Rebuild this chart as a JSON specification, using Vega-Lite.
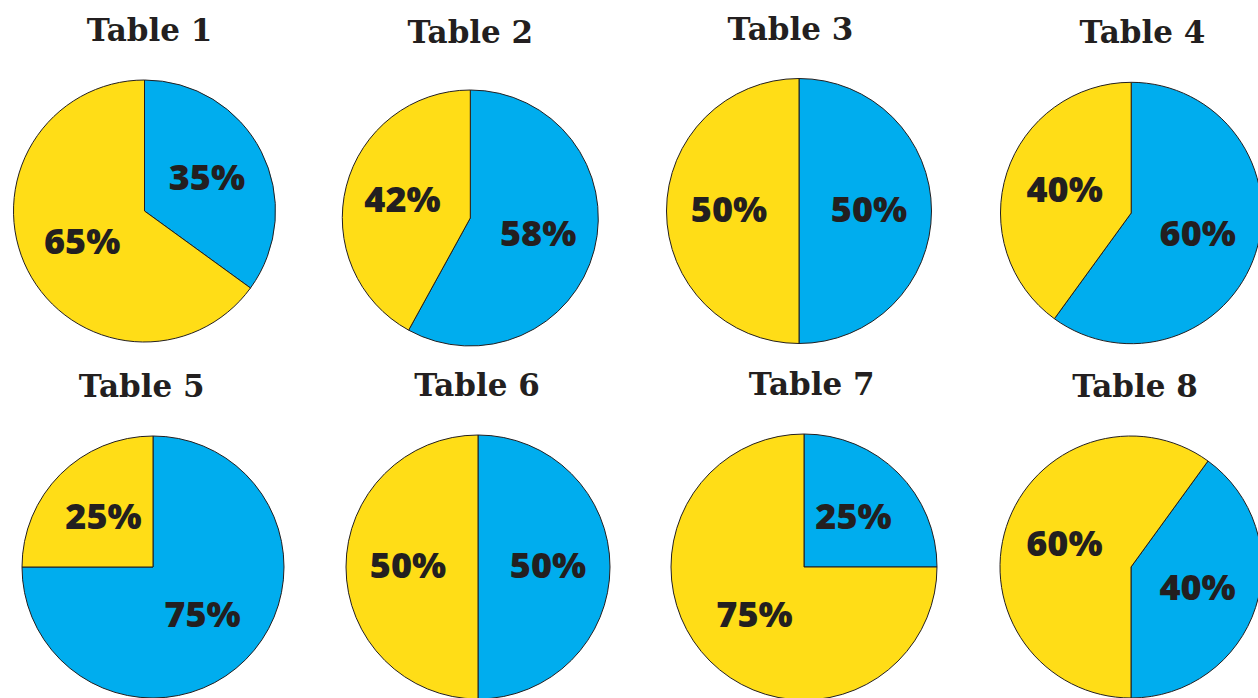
{
  "$schema": "https://vega.github.io/schema/vega-lite/v6.json",
  "background": "white",
  "padding": {"left": 10, "top": 14, "right": 0, "bottom": 0},
  "spacing": 14,
  "datasets": {
    "pies": [
      {"table": "Table 1", "group": "Blue", "value": 0.35},
      {"table": "Table 1", "group": "Yellow", "value": 0.65},
      {"table": "Table 2", "group": "Blue", "value": 0.58},
      {"table": "Table 2", "group": "Yellow", "value": 0.42},
      {"table": "Table 3", "group": "Blue", "value": 0.5},
      {"table": "Table 3", "group": "Yellow", "value": 0.5},
      {"table": "Table 4", "group": "Blue", "value": 0.6},
      {"table": "Table 4", "group": "Yellow", "value": 0.4},
      {"table": "Table 5", "group": "Blue", "value": 0.75},
      {"table": "Table 5", "group": "Yellow", "value": 0.25},
      {"table": "Table 6", "group": "Blue", "value": 0.5},
      {"table": "Table 6", "group": "Yellow", "value": 0.5},
      {"table": "Table 7", "group": "Blue", "value": 0.25},
      {"table": "Table 7", "group": "Yellow", "value": 0.75},
      {"table": "Table 8", "group": "Blue", "value": 0.4},
      {"table": "Table 8", "group": "Yellow", "value": 0.6}
    ]
  },
  "vconcat": [
    {
      "spacing": 0,
      "hconcat": [
        {
          "width": 269, "height": 262,
          "title": {"text": "Table 1", "dx": 5},
          "data": {"name": "pies"},
          "transform": [{"filter": "datum.table == 'Table 1'"}],
          "encoding": {
            "theta": {"field": "value", "type": "quantitative", "stack": true},
            "order": {"field": "group", "sort": "ascending"}
          },
          "layer": [
            {"mark": {"type": "arc", "outerRadius": 131, "stroke": "#231f20", "strokeWidth": 1},
             "encoding": {"color": {"field": "group", "type": "nominal", "scale": {"domain": ["Blue", "Yellow"], "range": ["#00ADEE", "#FFDD17"]}, "legend": null}}},
            {"mark": {"type": "text", "radius": 70, "fontSize": 36, "font": "Open Sans", "fontWeight": 800, "color": "#231f20"},
             "encoding": {"text": {"field": "value", "type": "quantitative", "format": ".0%"}, "detail": {"field": "group"}}}
          ]
        },
        {
          "width": 382.6, "height": 276,
          "title": {"text": "Table 2", "dx": 0},
          "data": {"name": "pies"},
          "transform": [{"filter": "datum.table == 'Table 2'"}],
          "encoding": {
            "theta": {"field": "value", "type": "quantitative", "stack": true},
            "order": {"field": "group", "sort": "ascending"}
          },
          "layer": [
            {"mark": {"type": "arc", "outerRadius": 128, "stroke": "#231f20", "strokeWidth": 1},
             "encoding": {"color": {"field": "group", "type": "nominal", "scale": {"domain": ["Blue", "Yellow"], "range": ["#00ADEE", "#FFDD17"]}, "legend": null}}},
            {"mark": {"type": "text", "radius": 70, "fontSize": 36, "font": "Open Sans", "fontWeight": 800, "color": "#231f20"},
             "encoding": {"text": {"field": "value", "type": "quantitative", "format": ".0%"}, "detail": {"field": "group"}}}
          ]
        },
        {
          "width": 274, "height": 262,
          "title": {"text": "Table 3", "dx": -8.6},
          "data": {"name": "pies"},
          "transform": [{"filter": "datum.table == 'Table 3'"}],
          "encoding": {
            "theta": {"field": "value", "type": "quantitative", "stack": true},
            "order": {"field": "group", "sort": "ascending"}
          },
          "layer": [
            {"mark": {"type": "arc", "outerRadius": 132.5, "stroke": "#231f20", "strokeWidth": 1},
             "encoding": {"color": {"field": "group", "type": "nominal", "scale": {"domain": ["Blue", "Yellow"], "range": ["#00ADEE", "#FFDD17"]}, "legend": null}}},
            {"mark": {"type": "text", "radius": 70, "fontSize": 36, "font": "Open Sans", "fontWeight": 800, "color": "#231f20"},
             "encoding": {"text": {"field": "value", "type": "quantitative", "format": ".0%"}, "detail": {"field": "group"}}}
          ]
        },
        {
          "width": 390.4, "height": 266,
          "title": {"text": "Table 4", "dx": 11.2},
          "data": {"name": "pies"},
          "transform": [{"filter": "datum.table == 'Table 4'"}],
          "encoding": {
            "theta": {"field": "value", "type": "quantitative", "stack": true},
            "order": {"field": "group", "sort": "ascending"}
          },
          "layer": [
            {"mark": {"type": "arc", "outerRadius": 130.7, "stroke": "#231f20", "strokeWidth": 1},
             "encoding": {"color": {"field": "group", "type": "nominal", "scale": {"domain": ["Blue", "Yellow"], "range": ["#00ADEE", "#FFDD17"]}, "legend": null}}},
            {"mark": {"type": "text", "radius": 70, "fontSize": 36, "font": "Open Sans", "fontWeight": 800, "color": "#231f20"},
             "encoding": {"text": {"field": "value", "type": "quantitative", "format": ".0%"}, "detail": {"field": "group"}}}
          ]
        }
      ]
    },
    {
      "spacing": 0,
      "hconcat": [
        {
          "width": 286, "height": 266,
          "title": {"text": "Table 5", "dx": -11.3},
          "data": {"name": "pies"},
          "transform": [{"filter": "datum.table == 'Table 5'"}],
          "encoding": {
            "theta": {"field": "value", "type": "quantitative", "stack": true},
            "order": {"field": "group", "sort": "ascending"}
          },
          "layer": [
            {"mark": {"type": "arc", "outerRadius": 131, "stroke": "#231f20", "strokeWidth": 1},
             "encoding": {"color": {"field": "group", "type": "nominal", "scale": {"domain": ["Blue", "Yellow"], "range": ["#00ADEE", "#FFDD17"]}, "legend": null}}},
            {"mark": {"type": "text", "radius": 70, "fontSize": 36, "font": "Open Sans", "fontWeight": 800, "color": "#231f20"},
             "encoding": {"text": {"field": "value", "type": "quantitative", "format": ".0%"}, "detail": {"field": "group"}}}
          ]
        },
        {
          "width": 364, "height": 266,
          "title": {"text": "Table 6", "dx": -1},
          "data": {"name": "pies"},
          "transform": [{"filter": "datum.table == 'Table 6'"}],
          "encoding": {
            "theta": {"field": "value", "type": "quantitative", "stack": true},
            "order": {"field": "group", "sort": "ascending"}
          },
          "layer": [
            {"mark": {"type": "arc", "outerRadius": 132, "stroke": "#231f20", "strokeWidth": 1},
             "encoding": {"color": {"field": "group", "type": "nominal", "scale": {"domain": ["Blue", "Yellow"], "range": ["#00ADEE", "#FFDD17"]}, "legend": null}}},
            {"mark": {"type": "text", "radius": 70, "fontSize": 36, "font": "Open Sans", "fontWeight": 800, "color": "#231f20"},
             "encoding": {"text": {"field": "value", "type": "quantitative", "format": ".0%"}, "detail": {"field": "group"}}}
          ]
        },
        {
          "width": 288, "height": 266,
          "title": {"text": "Table 7", "dx": 7.7},
          "data": {"name": "pies"},
          "transform": [{"filter": "datum.table == 'Table 7'"}],
          "encoding": {
            "theta": {"field": "value", "type": "quantitative", "stack": true},
            "order": {"field": "group", "sort": "ascending"}
          },
          "layer": [
            {"mark": {"type": "arc", "outerRadius": 133, "stroke": "#231f20", "strokeWidth": 1},
             "encoding": {"color": {"field": "group", "type": "nominal", "scale": {"domain": ["Blue", "Yellow"], "range": ["#00ADEE", "#FFDD17"]}, "legend": null}}},
            {"mark": {"type": "text", "radius": 70, "fontSize": 36, "font": "Open Sans", "fontWeight": 800, "color": "#231f20"},
             "encoding": {"text": {"field": "value", "type": "quantitative", "format": ".0%"}, "detail": {"field": "group"}}}
          ]
        },
        {
          "width": 366, "height": 266,
          "title": {"text": "Table 8", "dx": 4},
          "data": {"name": "pies"},
          "transform": [{"filter": "datum.table == 'Table 8'"}],
          "encoding": {
            "theta": {"field": "value", "type": "quantitative", "stack": true, "scale": {"range": [0.6283, 6.9115]}},
            "order": {"field": "group", "sort": "ascending"}
          },
          "layer": [
            {"mark": {"type": "arc", "outerRadius": 131, "stroke": "#231f20", "strokeWidth": 1},
             "encoding": {"color": {"field": "group", "type": "nominal", "scale": {"domain": ["Blue", "Yellow"], "range": ["#00ADEE", "#FFDD17"]}, "legend": null}}},
            {"mark": {"type": "text", "radius": 70, "fontSize": 36, "font": "Open Sans", "fontWeight": 800, "color": "#231f20"},
             "encoding": {"text": {"field": "value", "type": "quantitative", "format": ".0%"}, "detail": {"field": "group"}}}
          ]
        }
      ]
    }
  ],
  "config": {
    "view": {"stroke": null},
    "title": {"font": "DejaVu Serif", "fontSize": 31, "fontWeight": "bold", "color": "#231f20", "offset": 30, "frame": "group", "anchor": "middle"}
  }
}
